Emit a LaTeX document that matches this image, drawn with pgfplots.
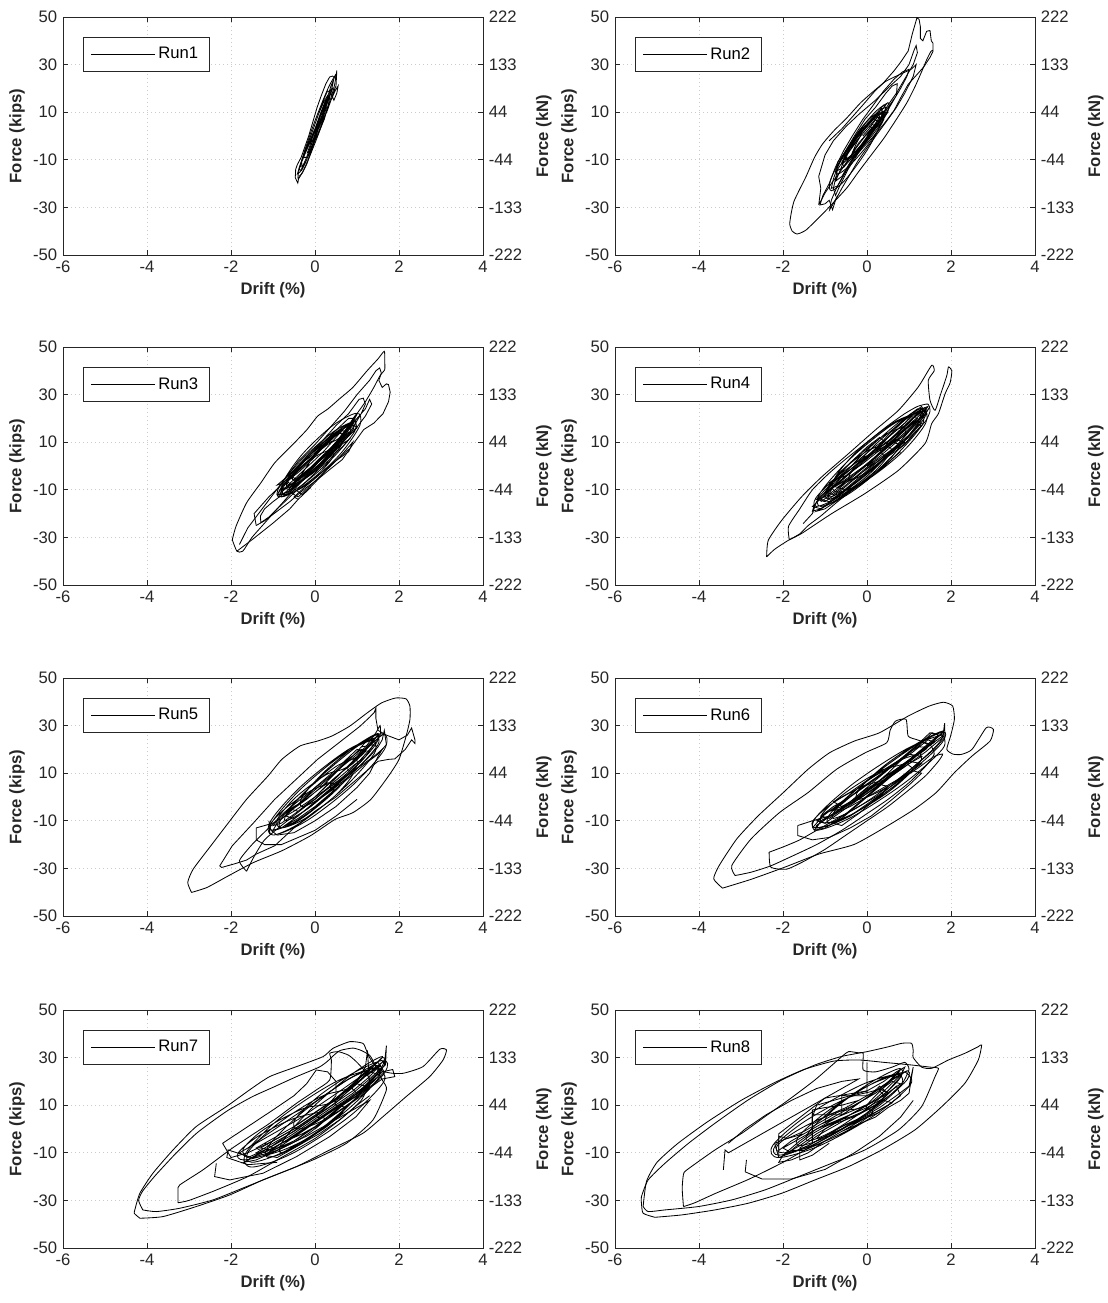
\documentclass[border=0pt]{standalone}
\usepackage{fontspec}
\setmainfont{Liberation Sans}
\usepackage{pgfplots}
\pgfplotsset{compat=1.18}
\definecolor{axgray}{HTML}{262626}

\pgfplotsset{
  panel/.style={
    scale only axis, width=252pt, height=142.8pt, anchor=south west,
    xmin=-6, xmax=4, ymin=-50, ymax=50,
    xtick={-6,-4,-2,0,2,4}, xticklabels={-6,-4,-2,0,2,4},
    ytick={-50,-30,-10,10,30,50}, yticklabels={-50,-30,-10,10,30,50},
    ytick pos=left,
    grid=major, major grid style={dotted, black!20, line width=0.4pt},
    axis line style={axgray, line width=0.5pt},
    tick style={axgray, line width=0.5pt}, major tick length=3pt, tick align=inside,
    ticklabel style={font=\fontsize{10}{12}\selectfont, text=axgray},
    xlabel={Drift (\%)}, ylabel={Force (kips)},
    label style={font=\bfseries\fontsize{10}{12}\selectfont, text=axgray},
    xlabel style={at={(axis description cs:0.5,-0.147)}, anchor=center},
    ylabel style={at={(axis description cs:-0.1095,0.5)}, anchor=center},
    legend style={at={(axis description cs:0.0476,0.916)}, anchor=north west,
      draw=axgray, line width=0.5pt, fill=white, inner xsep=4.5pt, inner ysep=4pt,
      font=\fontsize{10}{12}\selectfont},
    legend image code/.code={\draw[#1] (0pt,0pt) -- (32pt,0pt); \path (0pt,0pt) -- (38pt,0pt);},
  },
  rpanel/.style={
    scale only axis, width=252pt, height=142.8pt, anchor=south west,
    xmin=-6, xmax=4, ymin=-50, ymax=50,
    axis x line=none, axis y line*=right,
    ytick={-50,-30,-10,10,30,50}, yticklabels={-222,-133,-44,44,133,222},
    axis line style={axgray, line width=0.5pt},
    tick style={axgray, line width=0.5pt}, major tick length=3pt, tick align=inside,
    ticklabel style={font=\fontsize{10}{12}\selectfont, text=axgray},
    ylabel={Force (kN)},
    label style={font=\bfseries\fontsize{10}{12}\selectfont, text=axgray},
    ylabel style={at={(axis description cs:1.145,0.5)}, anchor=center},
  },
  run/.style={black, line width=0.5pt, mark=none},
  ell/.style={run, smooth, tension=0.55},
  loop/.style={run, smooth, tension=0.35},
}

\begin{document}
\begin{tikzpicture}
\path[use as bounding box] (-37.8pt,-33pt) rectangle (626.4pt,748.8pt);

% ---------- Run1
\begin{axis}[panel, at={(0pt,595.8pt)}]
\addplot[run] coordinates {(0,0) (0.08,3) (0.15,6) (0.2,9) (0.14,9) (0.05,5) (-0.05,0) (-0.12,-4) (-0.18,-7) (-0.1,-6) (0,-2) (0.1,2) (0.22,7) (0.3,12) (0.35,16) (0.3,17) (0.2,14) (0.08,9) (-0.04,3) (-0.15,-2) (-0.25,-7) (-0.32,-11) (-0.3,-13) (-0.2,-10) (-0.08,-5) (0.05,0) (0.18,6) (0.3,11) (0.4,16) (0.45,19) (0.5,21) (0.52,27.5) (0.49,24) (0.42,25.2) (0.35,24.8) (0.26,22) (0.15,17) (0.05,12) (-0.05,6) (-0.15,0) (-0.25,-5) (-0.33,-9) (-0.42,-12) (-0.46,-14) (-0.47,-17.5) (-0.41,-19.8) (-0.38,-17) (-0.3,-15.5) (-0.2,-12) (-0.1,-7) (0,-2) (0.12,3) (0.25,9) (0.38,15) (0.48,19) (0.55,21) (0.52,18) (0.45,15) (0.38,18) (0.3,19) (0.2,15) (0.1,10) (0,5) (-0.1,0) (-0.2,-5) (-0.3,-10) (-0.38,-14) (-0.32,-14.5) (-0.22,-11) (-0.12,-6) (0,-1) (0.1,4) (0.2,8) (0.27,12) (0.18,11) (0.08,6) (-0.02,2) (-0.12,-3) (-0.05,-2) (0.02,1)};
\addlegendentry{Run1}
\addplot[run, forget plot] coordinates {(0,0) (0.12,5) (0.22,10) (0.32,15) (0.42,20) (0.35,19) (0.2,12) (0.05,5) (-0.1,-1) (-0.22,-6) (-0.35,-12) (-0.42,-16) (-0.35,-15) (-0.2,-9) (-0.08,-3) (0.05,3) (0.18,9) (0.3,14) (0.25,15) (0.12,9) (0,3) (-0.15,-3) (-0.28,-9) (-0.2,-9) (-0.05,-2) (0.1,5) (0.38,21) (0.45,24) (0.4,20) (0.28,14) (0.15,8) (0,2) (-0.15,-4) (-0.3,-10) (-0.37,-13) (-0.25,-12)};
\addplot[ell, forget plot] coordinates {(0.5,26) (0.44,19.6) (0.15,4) (-0.2,-11.6) (-0.4,-18) (-0.34,-11.6) (-0.05,4) (0.3,19.6) (0.5,26)};
\end{axis}
\begin{axis}[rpanel, at={(0pt,595.8pt)}]
\end{axis}

% ---------- Run2
\begin{axis}[panel, at={(331.2pt,595.8pt)}]
\addplot[run] coordinates {(0,0) (0.15,4) (0.3,8) (0.25,10) (0.1,7) (-0.1,2) (-0.25,-3) (-0.35,-7) (-0.2,-6) (0,-1) (0.2,4) (0.4,9) (0.45,12) (0.3,11) (0.1,6) (-0.1,2) (-0.3,-2) (-0.45,-6) (-0.5,-10) (-0.35,-9) (-0.15,-4) (0.05,1) (0.3,6) (0.5,10) (0.4,13) (0.2,9) (0,4) (-0.2,0) (-0.4,-5) (-0.6,-11) (-0.55,-13) (-0.4,-9) (-0.2,-3) (0.1,3) (0.35,7) (0.25,8) (0.05,3) (-0.1,0)};
\addlegendentry{Run2}
\addplot[ell, forget plot] coordinates {(0.4,10) (0.38,6.2) (0.05,-3) (-0.4,-12.2) (-0.7,-16) (-0.68,-12.2) (-0.35,-3) (0.1,6.2) (0.4,10) (0.35,10) (0.33,7.1) (0.05,0) (-0.31,-7.1) (-0.55,-10) (-0.53,-7.1) (-0.25,0) (0.11,7.1) (0.35,10) (0.35,11) (0.36,6.1) (0,-6) (-0.5,-18.1) (-0.85,-23) (-0.86,-18.1) (-0.5,-6) (0,6.1) (0.35,11) (0.5,14) (0.5,10.5) (0.2,2) (-0.22,-6.5) (-0.5,-10) (-0.5,-6.5) (-0.2,2) (0.22,10.5) (0.5,14)};
\addplot[run, forget plot] coordinates {(-0.6,-12) (-0.3,-7) (0,-1) (0.25,5) (0.45,10) (0.3,10) (0.05,5) (-0.2,0) (-0.45,-5) (-0.7,-11) (-0.75,-15) (-0.55,-13) (-0.3,-8) (-0.05,-3) (0.2,3) (0.4,7) (0.25,8) (0,3) (-0.25,-2) (-0.5,-8) (-0.65,-15) (-0.75,-19) (-0.6,-17) (-0.4,-11) (-0.15,-5) (0.1,1) (0.3,6) (0.15,7) (-0.1,2) (-0.35,-3) (-0.55,-9) (-0.45,-10) (-0.2,-5) (0.05,0) (0.25,4) (0.1,5) (-0.15,0) (-0.4,-6) (-0.7,-14) (-0.8,-22) (-0.75,-25) (-0.65,-21) (-0.45,-14) (-0.2,-7) (0,-2) (0.2,3) (0.05,4) (-0.2,-1) (-0.4,-5)};
\addplot[run, forget plot] coordinates {(0,0) (0.25,6) (0.5,12) (0.7,17) (0.72,22) (0.6,21) (0.45,18) (0.2,12) (-0.05,7) (-0.3,0) (-0.5,-6) (-0.7,-13) (-0.8,-18) (-0.85,-22) (-0.7,-21) (-0.55,-16) (-0.35,-10) (-0.1,-4) (0.15,2) (0.4,8) (0.6,14) (0.8,20) (0.95,25) (1.0,28) (0.85,27) (0.65,24) (0.4,19) (0.15,13) (-0.1,7) (-0.35,0) (-0.55,-6) (-0.75,-13) (-0.9,-20) (-1.05,-25) (-1.12,-29) (-1.0,-28.5) (-0.9,-27) (-0.82,-31) (-0.75,-27) (-0.6,-22) (-0.4,-16) (-0.2,-10) (0,-5) (0.25,1) (0.5,7) (0.7,12) (0.9,18) (1.1,25) (1.17,30) (1.05,28)};
\addplot[loop, forget plot] coordinates {(1.05,28) (0.8,26) (0.45,23) (0.17,19) (-0.15,14) (-0.47,7.8) (-0.8,2) (-1.06,-3.4) (-1.25,-9) (-1.45,-17) (-1.62,-23) (-1.74,-27.5) (-1.8,-32) (-1.84,-37) (-1.78,-40) (-1.67,-41.2) (-1.55,-40.5) (-1.45,-39.5) (-1.3,-37) (-1.06,-32.8) (-0.8,-28) (-0.47,-21.6) (-0.2,-15) (0.1,-8) (0.4,-1) (0.7,7) (0.95,14) (1.15,21) (1.3,27) (1.42,32) (1.52,35.5) (1.57,36)};
\addplot[run, forget plot] coordinates {(-0.9,-2) (-0.6,3) (-0.35,8) (-0.1,13) (0.17,18.5) (0.4,22.5) (0.64,27.3) (0.8,31) (0.98,35.7) (1.08,43) (1.19,49.7) (1.24,49) (1.27,46) (1.27,41) (1.33,40) (1.42,44) (1.5,44.3) (1.53,40) (1.57,39) (1.57,35.5) (1.5,33) (1.35,29) (1.2,26) (0.98,21.7) (0.8,16) (0.64,10.6) (0.4,5) (0.13,-0.6) (-0.1,-5) (-0.3,-9) (-0.5,-15) (-0.72,-21.6) (-0.85,-27) (-0.89,-31) (-0.82,-29) (-0.7,-25)};
\addplot[run, forget plot] coordinates {(-1.15,-29) (-1.1,-22) (-1.15,-17) (-1.0,-8) (-0.8,-2) (-0.5,4) (-0.2,9) (0.2,15) (0.55,21) (0.8,25) (1.0,30) (1.12,36) (1.17,38) (1.2,35) (1.1,30) (0.9,24) (0.7,18) (0.5,13) (0.3,7) (0,1) (-0.3,-6) (-0.6,-14) (-0.85,-20) (-1.0,-24) (-1.15,-29)};
\end{axis}
\begin{axis}[rpanel, at={(331.2pt,595.8pt)}]
\end{axis}

% ---------- Run3
\begin{axis}[panel, at={(0pt,397.8pt)}]
\addplot[run] coordinates {(0,0) (0.2,4) (0.45,9) (0.7,14) (0.9,18) (0.75,17) (0.5,12) (0.2,6) (-0.1,1) (-0.4,-4) (-0.7,-9) (-0.85,-12) (-0.65,-11) (-0.35,-6) (0,0) (0.3,6) (0.6,12) (0.95,19) (1.0,16) (0.8,14) (0.5,9) (0.2,4) (-0.2,-2) (-0.5,-7) (-0.8,-10) (-0.6,-9) (-0.3,-4) (0.1,3) (0.4,8) (0.7,13) (0.55,14) (0.25,9) (-0.05,3) (-0.35,-2) (-0.7,-7) (-0.9,-8) (-0.7,-5) (-0.4,0) (-0.1,4) (0.2,9) (0.5,14) (0.3,13) (0,7) (-0.3,1) (-0.6,-4) (-0.4,-6) (-0.1,-1) (0.3,5) (0.6,10) (0.85,14) (0.6,15) (0.3,10) (0,5) (-0.3,-3) (-0.55,-9) (-0.3,-12) (0,-7) (0.3,-1) (0.6,4) (0.9,10) (0.8,6) (0.4,1) (0,-5) (-0.5,-13) (-0.4,-14) (-0.1,-9)};
\addlegendentry{Run3}
\addplot[ell, forget plot] coordinates {(0.95,19) (0.94,14.4) (0.4,3) (-0.34,-8.4) (-0.85,-13) (-0.84,-8.4) (-0.3,3) (0.44,14.4) (0.95,19) (0.85,17) (0.81,13.2) (0.35,4) (-0.25,-5.2) (-0.65,-9) (-0.61,-5.2) (-0.15,4) (0.45,13.2) (0.85,17) (0.6,12) (0.64,9.1) (0.3,2) (-0.22,-5.1) (-0.6,-8) (-0.64,-5.1) (-0.3,2) (0.22,9.1) (0.6,12) (1.0,22) (1.07,17.1) (0.6,5) (-0.13,-7.1) (-0.7,-12) (-0.77,-7.1) (-0.3,5) (0.43,17.1) (1.0,22) (0.6,12) (0.54,8.5) (0.1,0) (-0.46,-8.5) (-0.8,-12) (-0.74,-8.5) (-0.3,0) (0.26,8.5) (0.6,12) (0.9,18) (0.88,14.5) (0.45,6) (-0.12,-2.5) (-0.5,-6) (-0.48,-2.5) (-0.05,6) (0.52,14.5) (0.9,18) (0.4,7) (0.44,4.1) (0.1,-3) (-0.42,-10.1) (-0.8,-13) (-0.84,-10.1) (-0.5,-3) (0.02,4.1) (0.4,7)};
\addplot[run, forget plot] coordinates {(-0.8,-11) (-0.45,-6) (-0.1,-1) (0.25,5) (0.6,11) (0.9,17) (0.75,17) (0.45,12) (0.15,7) (-0.15,2) (-0.45,-3) (-0.75,-8) (-0.9,-12) (-0.7,-12) (-0.4,-8) (-0.05,-2) (0.3,4) (0.65,10) (1.0,16) (0.85,18) (0.55,14) (0.25,9) (-0.05,4) (-0.4,-2) (-0.7,-6) (-0.55,-8) (-0.2,-3) (0.15,3) (0.5,9) (0.75,13) (0.6,14) (0.3,10) (0,5) (-0.3,0) (-0.6,-5) (-0.8,-9) (-0.6,-10) (-0.3,-6) (0.05,0) (0.4,6) (0.7,12) (0.95,20) (0.8,20) (0.5,15) (0.2,10) (-0.1,5) (-0.4,-1) (-0.65,-4) (-0.5,-6) (-0.2,-2) (0.1,2) (0.45,7) (0.8,11) (0.65,8) (0.3,3) (0,-2) (-0.35,-7) (-0.6,-11) (-0.4,-13) (-0.1,-8) (0.2,-3) (0.55,3) (0.8,7)};
\addplot[loop, forget plot] coordinates {(-1.97,-31) (-1.88,-25.3) (-1.63,-15.5) (-1.29,-7.1) (-0.96,1.3) (-0.53,9) (-0.19,15.3) (0.06,20.9) (0.31,24) (0.57,28) (0.9,33) (1.24,40) (1.5,45) (1.65,48.2) (1.66,44) (1.66,40.5) (1.55,38) (1.4,33) (1.2,27) (1.0,22) (0.8,17) (0.5,10) (0.2,4) (0,0) (-0.3,-6) (-0.6,-12) (-0.9,-18) (-1.2,-24) (-1.5,-30) (-1.72,-35.8) (-1.86,-35.8) (-1.97,-31)};
\addplot[run, forget plot] coordinates {(-1.8,-33) (-1.6,-26) (-1.3,-19) (-1.0,-12) (-0.7,-5) (-0.4,2) (0,9) (0.3,15) (0.7,23) (1.0,30) (1.3,36) (1.45,40) (1.54,41.2) (1.58,39) (1.52,36) (1.6,33) (1.7,34.5) (1.75,34.2) (1.79,31) (1.75,27) (1.62,22) (1.4,18) (1.16,15.3) (0.9,9) (0.65,2.7) (0.35,-1.5) (0.06,-5.7) (-0.2,-9) (-0.36,-11.3) (-0.6,-15) (-0.9,-19) (-1.2,-23) (-1.4,-25)};
\addplot[run, forget plot] coordinates {(-1.4,-25) (-1.45,-20) (-1.3,-17) (-1.1,-13) (-0.8,-8) (-0.5,-2) (-0.2,4) (0.2,11) (0.5,17) (0.8,22) (1.05,28) (1.15,28.5) (1.2,26) (1.1,22) (0.9,16) (0.6,9) (0.3,3) (0,-3) (-0.3,-8) (-0.6,-13) (-0.9,-18) (-1.1,-21.5) (-1.29,-23.8) (-1.3,-21) (-1.2,-18) (-1.0,-15) (-0.7,-11) (-0.4,-6) (0,1) (0.4,8) (0.7,14) (1.0,20) (1.2,24) (1.3,28) (1.35,26) (1.2,21) (0.9,14)};
\addplot[run, forget plot] coordinates {(-1.86,-35.8) (-1.5,-31) (-1.0,-24) (-0.6,-18) (-0.4,-14)};
\end{axis}
\begin{axis}[rpanel, at={(0pt,397.8pt)}]
\end{axis}

% ---------- Run4
\begin{axis}[panel, at={(331.2pt,397.8pt)}]
\addplot[run] coordinates {(0,0) (0.3,5) (0.6,10) (0.9,15) (1.2,20) (1.0,21) (0.7,16) (0.4,10) (0.1,5) (-0.3,-1) (-0.7,-7) (-1.0,-11) (-0.8,-12) (-0.5,-8) (-0.1,-2) (0.3,4) (0.7,10) (1.1,17) (1.35,22) (1.2,24) (0.9,20) (0.6,15) (0.3,9) (0,4) (-0.4,-3) (-0.8,-9) (-1.1,-14) (-0.9,-15) (-0.6,-11) (-0.2,-5) (0.2,1) (0.6,7) (1.0,13) (1.3,18) (1.1,19) (0.8,14) (0.4,7) (0,1) (-0.4,-5) (-0.7,-9) (-0.5,-10) (-0.2,-6) (0.2,0) (0.6,6) (0.9,10) (0.7,11) (0.3,5) (-0.1,-1) (-0.5,-6) (-0.9,-10) (-1.2,-14) (-1.0,-13) (-0.6,-8) (-0.2,-2) (0.2,4) (0.5,9) (0.3,12) (0,8) (-0.3,3) (-0.6,-2) (-0.8,-6) (-0.5,-4) (-0.1,1) (0.4,8) (0.9,15) (1.4,22) (1.5,25) (1.35,21) (1.0,13) (0.6,4) (0.2,-3) (-0.3,-9) (-0.8,-15) (-1.2,-19) (-1.0,-18) (-0.5,-12) (0,-6) (0.4,0) (0.8,6)};
\addlegendentry{Run4}
\addplot[ell, forget plot] coordinates {(1.3,23) (1.31,17.2) (0.6,3) (-0.39,-11.2) (-1.1,-17) (-1.11,-11.2) (-0.4,3) (0.59,17.2) (1.3,23) (0.9,17) (0.89,12.7) (0.35,2) (-0.39,-8.7) (-0.9,-13) (-0.89,-8.7) (-0.35,2) (0.39,12.7) (0.9,17) (1.3,24) (1.19,18.5) (0.5,5) (-0.37,-8.5) (-0.9,-14) (-0.79,-8.5) (-0.1,5) (0.77,18.5) (1.3,24) (0.5,10) (0.58,6.5) (0.2,-2) (-0.42,-10.5) (-0.9,-14) (-0.98,-10.5) (-0.6,-2) (0.02,6.5) (0.5,10) (1.3,23) (1.4,18.1) (0.85,6) (-0.02,-6.1) (-0.7,-11) (-0.8,-6.1) (-0.25,6) (0.62,18.1) (1.3,23) (1.4,24) (1.35,19.7) (0.8,9) (0.07,-1.7) (-0.4,-6) (-0.35,-1.7) (0.2,9) (0.93,19.7) (1.4,24) (0.4,7) (0.42,3.5) (-0.05,-5) (-0.72,-13.5) (-1.2,-17) (-1.22,-13.5) (-0.75,-5) (-0.08,3.5) (0.4,7)};
\addplot[run, forget plot] coordinates {(-1.1,-15) (-0.7,-10) (-0.3,-4) (0.1,2) (0.5,8) (0.9,14) (1.2,19) (1.4,23) (1.2,23) (0.9,18) (0.5,12) (0.1,7) (-0.3,1) (-0.7,-5) (-1.0,-10) (-1.2,-14) (-1.0,-15) (-0.6,-10) (-0.2,-4) (0.2,2) (0.6,7) (1.0,12) (1.3,17) (1.1,18) (0.7,13) (0.3,8) (-0.1,3) (-0.5,-3) (-0.9,-8) (-0.7,-9) (-0.3,-5) (0.1,0) (0.5,5) (0.8,9) (0.6,10) (0.2,6) (-0.2,1) (-0.6,-4) (-0.9,-7) (-0.7,-8) (-0.3,-3) (0.1,2) (0.5,8) (0.9,13) (1.2,18) (1.45,25) (1.3,24) (1.0,18) (0.6,12) (0.2,6) (-0.2,0) (-0.6,-6) (-1.0,-12) (-1.3,-17) (-1.1,-18) (-0.7,-13) (-0.3,-7) (0.1,-1) (0.5,4) (0.9,9) (1.1,13)};
\addplot[loop, forget plot] coordinates {(-2.39,-38.2) (-2.35,-31.2) (-2.03,-22.8) (-1.56,-13) (-1.08,-4.6) (-0.44,5.2) (0.19,15) (0.75,23.4) (1.22,33.2) (1.54,42.3) (1.6,40) (1.46,36) (1.5,27.6) (1.62,23.4) (1.75,30) (1.9,38) (1.94,41.6) (2.02,40) (1.98,35) (1.86,30.4) (1.7,22) (1.54,17.8) (1.38,9.4) (0.75,-1.8) (-0.05,-11.6) (-0.84,-20) (-1.56,-28.4) (-1.87,-31.2) (-2.2,-35) (-2.39,-38.2)};
\addplot[loop, forget plot] coordinates {(-1.85,-31) (-1.87,-25.4) (-1.6,-18) (-1.3,-10) (-0.9,-3) (-0.5,3) (0,10) (0.5,17) (0.9,22) (1.2,25) (1.45,26) (1.5,23) (1.4,19) (1.1,13) (0.7,6) (0.3,-1) (-0.2,-8) (-0.7,-15) (-1.1,-21) (-1.4,-25) (-1.6,-28.5) (-1.85,-31)};
\addplot[run, forget plot] coordinates {(-1.52,-24.2) (-1.3,-20) (-1.2,-15) (-0.9,-9) (-0.5,-3) (0,4) (0.5,12) (0.9,18) (1.15,23) (1.3,25) (1.4,22) (1.2,17) (0.8,9) (0.3,1) (-0.2,-6) (-0.7,-13) (-1.1,-18) (-1.3,-19) (-1.25,-16)};
\end{axis}
\begin{axis}[rpanel, at={(331.2pt,397.8pt)}]
\end{axis}

% ---------- Run5
\begin{axis}[panel, at={(0pt,199.2pt)}]
\addplot[run] coordinates {(0,0) (0.3,5) (0.6,10) (0.9,14) (1.2,19) (1.0,20) (0.7,15) (0.4,10) (0,4) (-0.4,-3) (-0.8,-8) (-1.0,-12) (-0.8,-11) (-0.4,-6) (0,0) (0.4,7) (0.8,13) (1.2,20) (1.4,24) (1.3,25) (1.0,19) (0.6,12) (0.2,5) (-0.2,-1) (-0.6,-6) (-0.9,-11) (-1.0,-14) (-0.8,-13) (-0.4,-8) (0,-2) (0.4,4) (0.8,10) (1.1,15) (1.3,19) (1.1,20) (0.8,16) (0.4,9) (0,3) (-0.4,-3) (-0.7,-8) (-0.5,-9) (-0.1,-4) (0.3,2) (0.7,8) (1.0,12) (1.3,17) (1.5,21) (1.6,24) (1.65,28) (1.7,22) (1.5,18) (1.2,14) (0.8,8) (0.4,2) (0,-4) (-0.4,-9) (-0.7,-12) (-0.5,-11) (-0.1,-6) (0.3,0) (0.6,5) (0.3,6) (0,2) (-0.3,-2) (-0.6,-5) (-0.4,-6) (0,-1) (0.5,7) (0.9,13) (1.2,17) (1.4,22) (1.1,21)};
\addlegendentry{Run5}
\addplot[ell, forget plot] coordinates {(1.4,24) (1.41,18.2) (0.7,4) (-0.29,-10.2) (-1.0,-16) (-1.01,-10.2) (-0.3,4) (0.69,18.2) (1.4,24) (1.0,17) (0.99,12.7) (0.45,2) (-0.29,-8.7) (-0.8,-13) (-0.79,-8.7) (-0.25,2) (0.49,12.7) (1.0,17) (1.5,26) (1.39,20.8) (0.7,8) (-0.17,-4.8) (-0.7,-10) (-0.59,-4.8) (0.1,8) (0.97,20.8) (1.5,26) (0.8,13) (0.89,9.2) (0.45,0) (-0.25,-9.2) (-0.8,-13) (-0.89,-9.2) (-0.45,0) (0.25,9.2) (0.8,13) (1.6,26) (1.65,19.9) (0.9,5) (-0.19,-9.9) (-1.0,-16) (-1.05,-9.9) (-0.3,5) (0.79,19.9) (1.6,26) (1.5,26) (1.49,21.7) (0.95,11) (0.21,0.4) (-0.3,-4) (-0.29,0.4) (0.25,11) (0.99,21.7) (1.5,26) (0.4,6) (0.45,3.1) (0.05,-4) (-0.55,-11.1) (-1.0,-14) (-1.05,-11.1) (-0.65,-4) (-0.05,3.1) (0.4,6)};
\addplot[loop, forget plot] coordinates {(-2.94,-40.1) (-3.03,-35.9) (-2.9,-30.3) (-2.48,-20.5) (-2.06,-10.8) (-1.63,-1) (-1.12,8.8) (-0.79,15.8) (-0.36,21.4) (0.06,23.5) (0.4,25.6) (0.82,29.7) (1.24,35.3) (1.58,39.5) (1.92,41.6) (2.17,41.2) (2.26,38.1) (2.26,32.5) (2.17,25.6) (2.0,15.8) (1.75,8.8) (1.33,-1) (0.9,-6.6) (0.48,-9.4) (-0.11,-16.3) (-0.79,-22.6) (-1.46,-27.5) (-2.06,-33.1) (-2.57,-38) (-2.94,-40.1)};
\addplot[run, forget plot] coordinates {(-2.27,-29) (-1.97,-20.5) (-1.46,-10.8) (-0.96,-1) (-0.45,7.4) (0.06,15.8) (0.57,22.8) (1.07,29.7) (1.3,33.5) (1.41,35.5) (1.45,37.4) (1.45,33) (1.5,28) (1.7,26) (2.0,24) (2.2,26) (2.3,29) (2.38,24) (2.38,22.5) (2.3,24) (2.15,20) (1.9,16) (1.75,15.8) (1.5,15) (1.3,12) (0.9,6) (0.5,0) (0,-6) (-0.5,-13) (-0.96,-20.5) (-1.4,-24) (-1.63,-26.5) (-1.9,-28) (-2.22,-29.6) (-2.27,-29)};
\addplot[loop, forget plot] coordinates {(-1.63,-31.2) (-1.8,-26.8) (-1.5,-20) (-1.1,-13) (-0.7,-6) (-0.2,1) (0.3,8) (0.8,15) (1.2,21) (1.45,27) (1.55,30) (1.55,26) (1.4,22) (1.1,16) (0.7,9) (0.2,2) (-0.3,-5) (-0.8,-12) (-1.2,-18) (-1.45,-25) (-1.63,-31.2)};
\addplot[run, forget plot] coordinates {(-1.1,-10) (-1.05,-14) (-0.9,-16) (-0.5,-15) (0,-10) (0.5,-4) (1.0,4) (1.3,10) (1.5,17) (1.6,20) (1.4,17) (1.0,12) (0.5,6) (0,0) (-0.5,-6) (-1.0,-11) (-1.4,-13) (-1.4,-18) (-1.2,-20) (-0.8,-20) (-0.4,-17) (0,-14) (0.5,-8) (1.0,-1)};
\end{axis}
\begin{axis}[rpanel, at={(0pt,199.2pt)}]
\end{axis}

% ---------- Run6
\begin{axis}[panel, at={(331.2pt,199.2pt)}]
\addplot[run] coordinates {(0,0) (0.4,6) (0.8,12) (1.2,18) (1.5,22) (1.3,23) (0.9,17) (0.5,10) (0.1,4) (-0.3,-2) (-0.7,-6) (-1.1,-10) (-1.2,-13) (-0.9,-12) (-0.5,-7) (-0.1,-1) (0.3,5) (0.7,11) (1.1,17) (1.5,23) (1.7,26) (1.5,27) (1.2,22) (0.8,16) (0.4,10) (0,4) (-0.4,-2) (-0.8,-7) (-1.2,-12) (-1.25,-14) (-1.0,-13) (-0.6,-9) (-0.2,-3) (0.2,3) (0.6,9) (1.0,14) (1.4,19) (1.8,25) (1.85,31) (1.85,25) (1.6,20) (1.2,14) (0.8,8) (0.4,2) (0,-3) (-0.4,-8) (-0.8,-11) (-0.6,-12) (-0.2,-7) (0.2,-1) (0.6,5) (1.0,10) (1.3,14) (1.0,15) (0.6,10) (0.2,4) (-0.2,-1) (-0.6,-4) (-0.9,-6) (-0.6,-5) (-0.2,1) (0.3,7) (0.8,13) (1.2,18) (1.6,23)};
\addlegendentry{Run6}
\addplot[ell, forget plot] coordinates {(1.8,26) (1.8,20.2) (0.9,6) (-0.34,-8.2) (-1.2,-14) (-1.2,-8.2) (-0.3,6) (0.94,20.2) (1.8,26) (1.3,19) (1.26,14.7) (0.6,4) (-0.3,-6.7) (-0.9,-11) (-0.86,-6.7) (-0.2,4) (0.7,14.7) (1.3,19) (1.8,27) (1.67,21.8) (0.85,9) (-0.17,-3.8) (-0.8,-9) (-0.67,-3.8) (0.15,9) (1.17,21.8) (1.8,27) (1.0,15) (1.07,11.2) (0.5,2) (-0.35,-7.2) (-1.0,-11) (-1.07,-7.2) (-0.5,2) (0.35,11.2) (1.0,15) (1.8,27) (1.79,22.9) (1.2,13) (0.37,3.1) (-0.2,-1) (-0.19,3.1) (0.4,13) (1.23,22.9) (1.8,27) (0.4,7) (0.49,4.1) (0.05,-3) (-0.65,-10.1) (-1.2,-13) (-1.29,-10.1) (-0.85,-3) (-0.15,4.1) (0.4,7)};
\addplot[run, forget plot] coordinates {(-1.2,-12) (-0.8,-7) (-0.4,-2) (0,3) (0.4,8) (0.8,13) (1.2,18) (1.6,23) (1.45,24) (1.1,19) (0.7,14) (0.3,9) (-0.1,4) (-0.5,-1) (-0.9,-6) (-1.2,-10) (-1.0,-11) (-0.6,-6) (-0.2,-1) (0.2,4) (0.6,10) (1.0,15) (1.4,20) (1.7,26) (1.55,27) (1.2,21) (0.8,16) (0.4,10) (0,5) (-0.4,0) (-0.8,-4) (-1.1,-8) (-0.9,-9) (-0.5,-4) (-0.1,1) (0.3,6) (0.7,11) (1.1,16) (1.4,21) (1.2,21) (0.8,16) (0.4,11) (0,7) (-0.4,2) (-0.8,-2) (-0.6,-4) (-0.2,0) (0.2,5) (0.6,9) (1.0,14) (1.3,17) (1.0,18) (0.6,13) (0.2,8) (-0.2,3) (-0.6,-3) (-1.0,-7) (-1.3,-13)};
\addplot[loop, forget plot] coordinates {(-3.44,-38.3) (-3.65,-34.4) (-3.52,-28.8) (-3.1,-17.6) (-2.59,-7.9) (-1.99,1.9) (-1.4,11.7) (-0.89,18.6) (-0.3,23.5) (0.3,27) (0.98,34) (1.48,38.2) (1.82,39.8) (2.04,38.2) (2.08,32.6) (1.99,25.6) (1.9,20) (2.05,18) (2.25,17.9) (2.5,20) (2.84,29.1) (3.01,28.4) (2.93,23.5) (2.5,17.2) (2.08,10.2) (1.65,1.9) (1.14,-5) (0.5,-12) (-0.3,-19.9) (-1.15,-24) (-1.99,-29.7) (-2.76,-34.6) (-3.44,-38.3)};
\addplot[loop, forget plot] coordinates {(-3.14,-33) (-3.22,-28.8) (-2.76,-17.6) (-2.08,-6.5) (-1.4,1.9) (-0.72,11.7) (-0.04,18.6) (0.47,22.8) (0.55,28) (0.68,31.9) (0.93,32.6) (0.98,25.6) (1.2,24) (1.5,22) (1.6,18) (1.4,13) (1.0,6) (0.5,-1) (0,-7) (-0.6,-14) (-1.2,-20) (-1.8,-25) (-2.3,-29) (-2.76,-31.6) (-3.14,-33)};
\addplot[loop, forget plot] coordinates {(-2.33,-23.2) (-2.29,-29.5) (-1.91,-30.3) (-1.5,-27) (-1.0,-22) (-0.5,-16) (0,-10) (0.5,-4) (1.0,3) (1.4,9) (1.7,15) (1.8,18) (1.6,17) (1.2,12) (0.7,6) (0.2,0) (-0.4,-6) (-1.0,-12) (-1.6,-18) (-2.0,-21) (-2.33,-23.2)};
\addplot[run, forget plot] coordinates {(-1.65,-12) (-1.65,-16.2) (-1.3,-18) (-0.9,-17) (-0.4,-13) (0.1,-8) (0.6,-1) (1.0,5) (1.3,10) (1.1,11) (0.6,6) (0.1,1) (-0.4,-4) (-0.9,-8) (-1.3,-10) (-1.65,-12)};
\end{axis}
\begin{axis}[rpanel, at={(331.2pt,199.2pt)}]
\end{axis}

% ---------- Run7
\begin{axis}[panel, at={(0pt,0pt)}]
\addplot[run] coordinates {(0,0) (0.4,6) (0.8,12) (1.2,18) (1.5,23) (1.3,24) (0.9,18) (0.5,11) (0,5) (-0.5,-1) (-1.0,-6) (-1.4,-10) (-1.2,-11) (-0.8,-7) (-0.3,-1) (0.2,5) (0.7,11) (1.1,16) (1.5,22) (1.65,27) (1.7,35) (1.68,27) (1.4,22) (1.0,15) (0.5,9) (0,3) (-0.5,-3) (-1.0,-8) (-1.5,-12) (-1.7,-14) (-1.4,-13) (-0.9,-9) (-0.4,-4) (0.1,2) (0.6,8) (1.0,13) (1.3,18) (1.25,33) (1.2,26) (1.0,20) (0.6,14) (0.1,7) (-0.4,1) (-0.9,-4) (-1.3,-8) (-1.0,-9) (-0.5,-5) (0,1) (0.5,8) (1.0,14) (1.4,20) (1.6,24) (1.85,25) (1.9,22) (1.6,21) (1.2,16) (0.7,9) (0.2,3) (-0.3,-2) (-0.8,-6) (-1.2,-11) (-0.9,-12) (-0.4,-7) (0.1,-2) (0.6,4) (1.0,10) (1.3,14)};
\addlegendentry{Run7}
\addplot[ell, forget plot] coordinates {(1.5,26) (1.64,19.9) (0.8,5) (-0.5,-9.9) (-1.5,-16) (-1.64,-9.9) (-0.8,5) (0.5,19.9) (1.5,26) (1.5,26) (1.48,20.5) (0.7,7) (-0.36,-6.5) (-1.1,-12) (-1.08,-6.5) (-0.3,7) (0.76,20.5) (1.5,26) (0.9,18) (0.98,13.4) (0.3,2) (-0.72,-9.4) (-1.5,-14) (-1.58,-9.4) (-0.9,2) (0.12,13.4) (0.9,18) (1.6,30) (1.53,24.2) (0.8,10) (-0.17,-4.2) (-0.8,-10) (-0.73,-4.2) (0,10) (0.97,24.2) (1.6,30) (0.5,12) (0.71,8.5) (0.2,0) (-0.71,-8.5) (-1.5,-12) (-1.71,-8.5) (-1.2,0) (-0.29,8.5) (0.5,12) (1.6,28) (1.67,23.9) (1.1,14) (0.25,4.1) (-0.4,0) (-0.47,4.1) (0.1,14) (0.95,23.9) (1.6,28) (0.1,7) (0.23,4.1) (-0.25,-3) (-1.05,-10.1) (-1.7,-13) (-1.83,-10.1) (-1.35,-3) (-0.55,4.1) (0.1,7)};
\addplot[run, forget plot] coordinates {(-1.6,-13) (-1.1,-8) (-0.6,-3) (-0.1,3) (0.4,9) (0.9,15) (1.3,21) (1.6,26) (1.4,27) (1.0,21) (0.6,16) (0.1,10) (-0.4,4) (-0.9,-1) (-1.4,-6) (-1.8,-10) (-1.6,-12) (-1.1,-8) (-0.6,-2) (-0.1,4) (0.4,10) (0.9,16) (1.3,22) (1.5,26) (1.3,25) (0.9,19) (0.5,13) (0,7) (-0.5,1) (-1.0,-4) (-1.4,-8) (-1.2,-10) (-0.7,-5) (-0.2,1) (0.3,7) (0.8,13) (1.2,18) (1.0,19) (0.6,14) (0.1,8) (-0.4,2) (-0.9,-3) (-1.2,-6) (-1.0,-8) (-0.5,-3) (0,3) (0.5,9) (1.0,14) (1.4,19) (1.65,24) (1.5,28) (1.2,25) (0.8,21) (0.3,15) (-0.2,9) (-0.7,3) (-1.2,-3) (-1.6,-8)};
\addplot[loop, forget plot] coordinates {(-4.17,-37.5) (-4.3,-35.5) (-4.29,-34) (-4.17,-27) (-3.86,-18.6) (-3.38,-8.8) (-2.83,1) (-2.11,9.4) (-1.56,16.4) (-1.08,22) (-0.44,26.2) (0.19,30.4) (0.43,33.9) (0.83,36.7) (1.14,36) (1.22,33.2) (1.3,30) (1.5,25) (1.8,23.5) (2.1,23.4) (2.57,26.2) (2.97,33.5) (3.13,33.2) (3.05,29) (2.73,22) (2.17,13.6) (1.62,5.2) (1.14,-1.8) (0.35,-8.8) (-0.44,-15.8) (-1.24,-21.4) (-2.03,-27.7) (-2.83,-32.6) (-3.62,-36.8) (-4.17,-37.5)};
\addplot[loop, forget plot] coordinates {(-4.1,-34) (-4.2,-30) (-4.1,-26) (-3.8,-19.5) (-3.3,-10) (-2.8,-1.5) (-2.1,7.5) (-1.5,13.5) (-1.0,17.5) (-0.44,22) (0.1,26) (0.3,28.5) (0.45,31) (0.6,33) (0.9,34) (1.1,33) (1.3,31) (1.4,28) (1.5,24) (1.62,20) (1.7,16.4) (1.38,3.8) (0.75,-6) (-0.05,-13) (-0.84,-18.6) (-1.63,-24.2) (-2.43,-29.8) (-3.22,-33.3) (-3.78,-34.7) (-4.1,-34)};
\addplot[loop, forget plot] coordinates {(-3.26,-31) (-3.26,-25.6) (-3.22,-23.5) (-2.67,-17.2) (-2.03,-8.8) (-1.56,-3.2) (-1.08,2.4) (-0.44,10.8) (0.03,16.4) (0.35,20.6) (0.39,29) (0.35,31.8) (0.55,32.5) (0.8,31) (1.0,28) (1.2,24) (1.3,20) (1.1,12) (0.6,4) (0,-4) (-0.8,-12) (-1.6,-20) (-2.4,-26) (-3.0,-30) (-3.26,-31)};
\addplot[run, forget plot] coordinates {(-2.2,-6) (-1.6,1) (-1.0,8) (-0.5,14) (-0.2,19) (0.03,24.8) (0.3,24) (0.5,20) (0.5,14) (0.2,8) (-0.4,1) (-1.0,-5) (-1.6,-10) (-2.0,-12) (-2.2,-6)};
\addplot[run, forget plot] coordinates {(-2.35,-14.4) (-2.39,-20) (-2.03,-21.4) (-1.24,-18.6) (-0.44,-11.6) (0.35,-3.2) (0.98,5.2) (1.3,12) (1.1,10) (0.5,4) (-0.2,-3) (-0.9,-9) (-1.5,-12) (-2.07,-8.8) (-2.1,-12) (-1.6,-15) (-0.9,-14)};
\end{axis}
\begin{axis}[rpanel, at={(0pt,0pt)}]
\end{axis}

% ---------- Run8
\begin{axis}[panel, at={(331.2pt,0pt)}]
\addplot[run] coordinates {(0,5) (-0.3,3) (-0.6,0) (-1.0,-3) (-1.4,-7) (-1.8,-10) (-2.1,-12) (-2.2,-6) (-1.9,-4) (-1.5,-1) (-1.1,3) (-0.7,7) (-0.3,10) (0,13) (0.3,18) (0.5,15) (0.2,10) (-0.2,6) (-0.6,4) (-1.0,1) (-1.3,-2) (-1.6,-6) (-1.8,-9) (-1.5,-9) (-1.1,-6) (-0.7,-2) (-0.3,2) (0.1,6) (0.5,10) (0.8,14) (0.7,18) (0.4,13) (0,9) (-0.4,6) (-0.8,3) (-1.2,0) (-1.6,-5) (-2.0,-11) (-2.1,-14) (-1.8,-13) (-1.4,-10) (-1.0,-5) (-0.6,-1) (-0.2,2) (0.2,5) (0.5,9) (0.8,12) (1.0,15) (1.1,26) (1.0,18) (0.7,14) (0.3,9) (-0.1,5) (-0.5,2) (-0.9,-2) (-1.3,-6) (-1.3,5) (-1.2,10) (-0.8,12) (-0.4,14) (0,16) (0.4,20) (0.7,24) (0.9,26) (0.8,22) (0.5,16) (0.2,12) (-0.2,8) (-0.6,4) (-1.0,0) (-1.2,-4) (-0.9,-3) (-0.5,1) (-0.1,4) (0.3,7)};
\addlegendentry{Run8}
\addplot[ell, forget plot] coordinates {(0.9,24) (1.04,18.8) (0.2,6) (-1.1,-6.8) (-2.1,-12) (-2.24,-6.8) (-1.4,6) (-0.1,18.8) (0.9,24) (0.8,23) (0.81,18.7) (0.1,8) (-0.89,-2.7) (-1.6,-7) (-1.61,-2.7) (-0.9,8) (0.09,18.7) (0.8,23) (0.3,17) (0.38,12.9) (-0.3,3) (-1.32,-6.9) (-2.1,-11) (-2.18,-6.9) (-1.5,3) (-0.48,12.9) (0.3,17) (0.8,25) (0.76,20.7) (0.1,10) (-0.8,-0.7) (-1.4,-5) (-1.36,-0.7) (-0.7,10) (0.2,20.7) (0.8,25) (0,10) (0.14,7.1) (-0.4,0) (-1.28,-7.1) (-2.0,-10) (-2.14,-7.1) (-1.6,0) (-0.72,7.1) (0,10) (0.9,24) (0.96,20.8) (0.45,13) (-0.32,5.2) (-0.9,2) (-0.96,5.2) (-0.45,13) (0.32,20.8) (0.9,24)};
\addplot[run, forget plot] coordinates {(-1.3,-4) (-1.3,6) (-0.6,6) (-0.6,14) (0,14) (0,28) (0,16) (-1.0,13) (-2.1,-2) (-2.1,-12)};
\addplot[run, forget plot] coordinates {(-2.0,-11) (-1.6,-7) (-1.2,-2) (-0.8,2) (-0.4,6) (0,10) (0.4,14) (0.8,19) (0.6,20) (0.2,15) (-0.2,11) (-0.6,7) (-1.0,3) (-1.4,-1) (-1.8,-5) (-2.1,-9) (-2.1,-3) (-1.9,-4) (-1.5,-2) (-1.1,2) (-0.7,5) (-0.3,8) (0.1,11) (0.5,15) (0.3,17) (-0.1,13) (-0.5,9) (-0.9,6) (-1.3,2) (-1.3,8) (-1.0,9) (-0.6,10) (-0.2,12) (0.2,16) (0.6,21) (0.9,24) (0.7,22) (0.3,17) (-0.1,12) (-0.5,7) (-0.9,3) (-1.3,-1) (-1.7,-5) (-2.0,-8) (-1.8,-10) (-1.4,-7) (-1.0,-3) (-0.6,1) (-0.2,4) (0.2,7) (0.6,11) (0.4,12) (0,8) (-0.4,5) (-0.8,1) (-1.2,-3) (-1.6,-8) (-1.6,-13) (-1.3,-11) (-0.9,-6)};
\addplot[loop, forget plot] coordinates {(-5.05,-37.1) (-5.33,-35.4) (-5.37,-31.2) (-5.37,-28.4) (-5.21,-21.4) (-4.81,-14.4) (-4.25,-6) (-3.62,2.4) (-2.83,12.2) (-2.03,20.6) (-1.24,26.9) (-0.6,30.5) (0,32.5) (0.5,34.5) (0.83,36) (1.06,36) (1.1,33) (1.1,30) (1.3,26) (1.54,25.5) (1.94,29) (2.33,31.8) (2.65,34.6) (2.73,35.3) (2.65,29) (2.33,19.2) (1.78,9.4) (1.14,-0.4) (0.35,-8.8) (-0.44,-15.8) (-1.24,-21.4) (-2.03,-27) (-2.83,-31.2) (-3.62,-34) (-4.41,-36.1) (-5.05,-37.1)};
\addplot[loop, forget plot] coordinates {(-5.33,-32.6) (-5.21,-34.7) (-4.81,-34) (-4.02,-32.6) (-3.22,-29.8) (-2.43,-25.6) (-1.63,-20) (-0.84,-14.4) (-0.05,-8.8) (0.75,-0.4) (1.3,9.4) (1.62,22) (1.7,25.5) (1.5,26) (1.0,27) (0.4,28) (-0.2,29) (-0.8,28.5) (-1.5,25) (-2.2,19.5) (-3.0,12) (-3.8,3) (-4.5,-6) (-5.0,-14) (-5.25,-22) (-5.33,-32.6)};
\addplot[loop, forget plot] coordinates {(-4.37,-32.6) (-4.4,-25) (-4.37,-19) (-4.29,-17.2) (-3.62,-8.8) (-2.98,-1.8) (-2.43,5.2) (-1.87,12.2) (-1.24,20.6) (-0.6,30.4) (-0.44,32.5) (-0.2,32) (-0.09,31.8) (-0.09,24.8) (0.2,24) (0.6,26) (0.9,28) (1.0,25) (0.8,18) (0.3,10) (-0.4,2) (-1.2,-6) (-2.0,-14) (-2.8,-21) (-3.6,-27) (-4.1,-31) (-4.37,-32.6)};
\addplot[run, forget plot] coordinates {(-3.42,-17.2) (-3.38,-8.8) (-3.3,-10) (-2.8,-5) (-2.2,1) (-1.6,7) (-1.0,13) (-0.5,18) (-0.2,21) (-0.6,20) (-1.2,17) (-1.8,12) (-2.4,6) (-2.9,0) (-3.3,-6)};
\addplot[run, forget plot] coordinates {(-2.87,-13) (-2.9,-18) (-2.5,-21) (-1.8,-21) (-1.0,-17) (-0.3,-10) (0.3,-3) (0.8,5) (1.1,12)};
\end{axis}
\begin{axis}[rpanel, at={(331.2pt,0pt)}]
\end{axis}
\end{tikzpicture}
\end{document}
